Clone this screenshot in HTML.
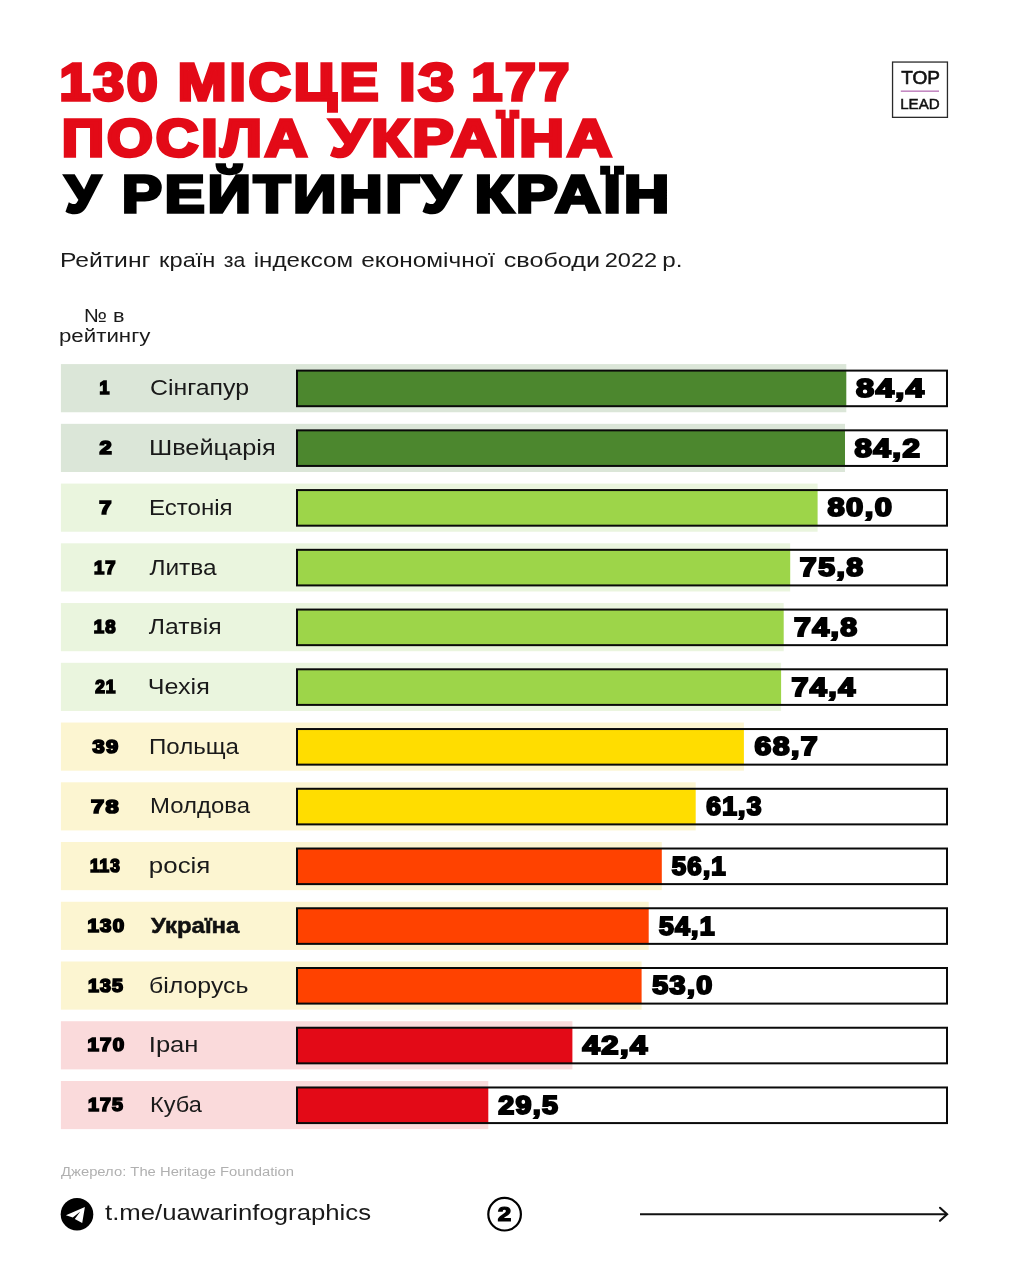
<!DOCTYPE html>
<html lang="uk">
<head>
<meta charset="utf-8">
<title>130 місце із 177 посіла Україна у рейтингу країн</title>
<style>
html,body{margin:0;padding:0;background:#fff;}
body{width:1009px;height:1280px;overflow:hidden;font-family:"Liberation Sans",sans-serif;}
svg{display:block;}
text{white-space:pre;font-family:"Liberation Sans",sans-serif;}
.k0{font-size:52.0px;fill:#e30a17;font-weight:bold;letter-spacing:2.6px;stroke:#e30a17;stroke-width:3.4px;stroke-linejoin:miter;stroke-miterlimit:3;}
.k1{font-size:52.0px;fill:#000;font-weight:bold;letter-spacing:2.6px;stroke:#000;stroke-width:3.4px;stroke-linejoin:miter;stroke-miterlimit:3;}
.k2{font-size:18.6px;fill:#111;stroke:#111;stroke-width:0.6px;stroke-linejoin:miter;stroke-miterlimit:3;}
.k3{font-size:15px;fill:#111;stroke:#111;stroke-width:0.5px;stroke-linejoin:miter;stroke-miterlimit:3;}
.k4{font-size:20.5px;fill:#1a1a1a;}
.k5{font-size:18.8px;fill:#1a1a1a;}
.k6{font-size:18px;fill:#1a1a1a;}
.k7{font-size:18.7px;fill:#000;font-weight:bold;letter-spacing:1.1px;stroke:#000;stroke-width:1.7px;stroke-linejoin:miter;stroke-miterlimit:3;}
.k8{font-size:21.2px;fill:#1a1a1a;}
.k9{font-size:25.6px;fill:#000;font-weight:bold;letter-spacing:1.2px;stroke:#000;stroke-width:2.0px;stroke-linejoin:miter;stroke-miterlimit:3;}
.k10{font-size:21.2px;fill:#111;font-weight:bold;stroke:#111;stroke-width:0.5px;stroke-linejoin:miter;stroke-miterlimit:3;}
.k11{font-size:12.5px;fill:#b0b0b0;}
.k12{font-size:21.6px;fill:#1a1a1a;}
.k13{font-size:20px;fill:#000;font-weight:bold;stroke:#000;stroke-width:1.2px;stroke-linejoin:miter;stroke-miterlimit:3;}
</style>
</head>
<body>
<svg width="1009" height="1280" viewBox="0 0 1009 1280">
<rect width="1009" height="1280" fill="#fff"/>
<text class="k0" x="59.5" y="100.1" textLength="100.98" lengthAdjust="spacingAndGlyphs">130</text>
<text class="k0" x="177.81" y="100.1" textLength="203.52" lengthAdjust="spacingAndGlyphs">МІСЦЕ</text>
<text class="k0" x="399.27" y="100.1" textLength="58.38" lengthAdjust="spacingAndGlyphs">ІЗ</text>
<text class="k0" x="471.52" y="100.1" textLength="100.57" lengthAdjust="spacingAndGlyphs">177</text>
<text class="k0" x="61.66" y="156.1" textLength="248.67" lengthAdjust="spacingAndGlyphs">ПОСІЛА</text>
<text class="k0" x="329.7" y="156.1" textLength="285.13" lengthAdjust="spacingAndGlyphs">УКРАЇНА</text>
<text class="k1" x="65.28" y="212.1" textLength="37.57" lengthAdjust="spacingAndGlyphs">У</text>
<text class="k1" x="121.99" y="212.1" textLength="340.52" lengthAdjust="spacingAndGlyphs">РЕЙТИНГУ</text>
<text class="k1" x="474.69" y="212.1" textLength="197.46" lengthAdjust="spacingAndGlyphs">КРАЇН</text>
<rect x="892.55" y="62.05" width="54.9" height="55.3" fill="#fff" stroke="#2a2a2a" stroke-width="1.3"/>
<text class="k2" x="901.2" y="84.2" textLength="38.82" lengthAdjust="spacingAndGlyphs">TOP</text>
<rect x="900.8" y="90.4" width="38.2" height="1.6" fill="#c48ac2"/>
<text class="k3" x="900.16" y="108.5" textLength="39.48" lengthAdjust="spacingAndGlyphs">LEAD</text>
<text class="k4" x="59.94" y="266.8" textLength="90.6" lengthAdjust="spacingAndGlyphs">Рейтинг</text>
<text class="k4" x="159.13" y="266.8" textLength="56.33" lengthAdjust="spacingAndGlyphs">країн</text>
<text class="k4" x="223.72" y="266.8" textLength="21.48" lengthAdjust="spacingAndGlyphs">за</text>
<text class="k4" x="253.75" y="266.8" textLength="99.3" lengthAdjust="spacingAndGlyphs">індексом</text>
<text class="k4" x="361.19" y="266.8" textLength="133.81" lengthAdjust="spacingAndGlyphs">економічної</text>
<text class="k4" x="503.74" y="266.8" textLength="96.35" lengthAdjust="spacingAndGlyphs">свободи</text>
<text class="k4" x="604.69" y="266.8" textLength="52.41" lengthAdjust="spacingAndGlyphs">2022</text>
<text class="k4" x="662.3" y="266.8" textLength="20.19" lengthAdjust="spacingAndGlyphs">р.</text>
<text class="k5" x="83.7" y="322.1" textLength="40.72" lengthAdjust="spacingAndGlyphs">№ в</text>
<text class="k6" x="58.96" y="341.5" textLength="91.46" lengthAdjust="spacingAndGlyphs">рейтингу</text>
<rect x="60.9" y="364.1" width="785.4" height="48.15" fill="#dbe6d8"/>
<rect x="297.0" y="370.6" width="650.0" height="35.6" fill="#fff"/>
<rect x="297.0" y="370.6" width="549.3" height="35.6" fill="#4c872e"/>
<rect x="297.0" y="370.6" width="650.0" height="35.6" fill="none" stroke="#0a0a0a" stroke-width="2"/>
<text class="k7" x="99.58" y="394.35" textLength="10.89" lengthAdjust="spacingAndGlyphs">1</text>
<text class="k8" x="149.98" y="395.3" textLength="99.02" lengthAdjust="spacingAndGlyphs">Сінгапур</text>
<text class="k9" x="856.0" y="397.0" textLength="69.53" lengthAdjust="spacingAndGlyphs">84,4</text>
<rect x="60.9" y="423.84" width="784.1" height="48.15" fill="#dbe6d8"/>
<rect x="297.0" y="430.34" width="650.0" height="35.6" fill="#fff"/>
<rect x="297.0" y="430.34" width="548.0" height="35.6" fill="#4c872e"/>
<rect x="297.0" y="430.34" width="650.0" height="35.6" fill="none" stroke="#0a0a0a" stroke-width="2"/>
<text class="k7" x="99.49" y="454.09" textLength="13.5" lengthAdjust="spacingAndGlyphs">2</text>
<text class="k8" x="148.94" y="455.04" textLength="126.72" lengthAdjust="spacingAndGlyphs">Швейцарія</text>
<text class="k9" x="854.48" y="456.74" textLength="66.88" lengthAdjust="spacingAndGlyphs">84,2</text>
<rect x="60.9" y="483.58" width="756.7" height="48.15" fill="#eaf5de"/>
<rect x="297.0" y="490.08" width="650.0" height="35.6" fill="#fff"/>
<rect x="297.0" y="490.08" width="520.6" height="35.6" fill="#9dd549"/>
<rect x="297.0" y="490.08" width="650.0" height="35.6" fill="none" stroke="#0a0a0a" stroke-width="2"/>
<text class="k7" x="99.2" y="513.83" textLength="13.54" lengthAdjust="spacingAndGlyphs">7</text>
<text class="k8" x="148.91" y="514.78" textLength="83.74" lengthAdjust="spacingAndGlyphs">Естонія</text>
<text class="k9" x="827.49" y="516.48" textLength="65.94" lengthAdjust="spacingAndGlyphs">80,0</text>
<rect x="60.9" y="543.32" width="729.3" height="48.15" fill="#eaf5de"/>
<rect x="297.0" y="549.82" width="650.0" height="35.6" fill="#fff"/>
<rect x="297.0" y="549.82" width="493.2" height="35.6" fill="#9dd549"/>
<rect x="297.0" y="549.82" width="650.0" height="35.6" fill="none" stroke="#0a0a0a" stroke-width="2"/>
<text class="k7" x="94.01" y="573.57" textLength="22.65" lengthAdjust="spacingAndGlyphs">17</text>
<text class="k8" x="149.4" y="574.52" textLength="67.2" lengthAdjust="spacingAndGlyphs">Литва</text>
<text class="k9" x="799.88" y="576.22" textLength="64.67" lengthAdjust="spacingAndGlyphs">75,8</text>
<rect x="60.9" y="603.06" width="722.8" height="48.15" fill="#eaf5de"/>
<rect x="297.0" y="609.56" width="650.0" height="35.6" fill="#fff"/>
<rect x="297.0" y="609.56" width="486.7" height="35.6" fill="#9dd549"/>
<rect x="297.0" y="609.56" width="650.0" height="35.6" fill="none" stroke="#0a0a0a" stroke-width="2"/>
<text class="k7" x="93.75" y="633.31" textLength="22.85" lengthAdjust="spacingAndGlyphs">18</text>
<text class="k8" x="148.78" y="634.26" textLength="72.85" lengthAdjust="spacingAndGlyphs">Латвія</text>
<text class="k9" x="794.0" y="635.96" textLength="64.63" lengthAdjust="spacingAndGlyphs">74,8</text>
<rect x="60.9" y="662.8" width="720.2" height="48.15" fill="#eaf5de"/>
<rect x="297.0" y="669.3" width="650.0" height="35.6" fill="#fff"/>
<rect x="297.0" y="669.3" width="484.1" height="35.6" fill="#9dd549"/>
<rect x="297.0" y="669.3" width="650.0" height="35.6" fill="none" stroke="#0a0a0a" stroke-width="2"/>
<text class="k7" x="95.14" y="693.05" textLength="21.31" lengthAdjust="spacingAndGlyphs">21</text>
<text class="k8" x="147.86" y="694.0" textLength="61.87" lengthAdjust="spacingAndGlyphs">Чехія</text>
<text class="k9" x="791.48" y="695.7" textLength="65.07" lengthAdjust="spacingAndGlyphs">74,4</text>
<rect x="60.9" y="722.54" width="683.0" height="48.15" fill="#fcf5d1"/>
<rect x="297.0" y="729.04" width="650.0" height="35.6" fill="#fff"/>
<rect x="297.0" y="729.04" width="446.9" height="35.6" fill="#ffdd00"/>
<rect x="297.0" y="729.04" width="650.0" height="35.6" fill="none" stroke="#0a0a0a" stroke-width="2"/>
<text class="k7" x="92.43" y="752.79" textLength="27.02" lengthAdjust="spacingAndGlyphs">39</text>
<text class="k8" x="148.94" y="753.74" textLength="90.07" lengthAdjust="spacingAndGlyphs">Польща</text>
<text class="k9" x="754.57" y="755.44" textLength="64.53" lengthAdjust="spacingAndGlyphs">68,7</text>
<rect x="60.9" y="782.28" width="634.8" height="48.15" fill="#fcf5d1"/>
<rect x="297.0" y="788.78" width="650.0" height="35.6" fill="#fff"/>
<rect x="297.0" y="788.78" width="398.7" height="35.6" fill="#ffdd00"/>
<rect x="297.0" y="788.78" width="650.0" height="35.6" fill="none" stroke="#0a0a0a" stroke-width="2"/>
<text class="k7" x="91.0" y="812.53" textLength="29.08" lengthAdjust="spacingAndGlyphs">78</text>
<text class="k8" x="149.98" y="813.48" textLength="100.02" lengthAdjust="spacingAndGlyphs">Молдова</text>
<text class="k9" x="706.2" y="815.18" textLength="56.45" lengthAdjust="spacingAndGlyphs">61,3</text>
<rect x="60.9" y="842.02" width="600.9" height="48.15" fill="#fcf5d1"/>
<rect x="297.0" y="848.52" width="650.0" height="35.6" fill="#fff"/>
<rect x="297.0" y="848.52" width="364.8" height="35.6" fill="#ff4200"/>
<rect x="297.0" y="848.52" width="650.0" height="35.6" fill="none" stroke="#0a0a0a" stroke-width="2"/>
<text class="k7" x="89.94" y="872.27" textLength="30.88" lengthAdjust="spacingAndGlyphs">113</text>
<text class="k8" x="148.85" y="873.22" textLength="61.52" lengthAdjust="spacingAndGlyphs">росія</text>
<text class="k9" x="671.7" y="874.92" textLength="55.23" lengthAdjust="spacingAndGlyphs">56,1</text>
<rect x="60.9" y="901.76" width="587.8" height="48.15" fill="#fcf5d1"/>
<rect x="297.0" y="908.26" width="650.0" height="35.6" fill="#fff"/>
<rect x="297.0" y="908.26" width="351.7" height="35.6" fill="#ff4200"/>
<rect x="297.0" y="908.26" width="650.0" height="35.6" fill="none" stroke="#0a0a0a" stroke-width="2"/>
<text class="k7" x="87.48" y="932.01" textLength="37.8" lengthAdjust="spacingAndGlyphs">130</text>
<text class="k10" x="151.0" y="932.96" textLength="88.4" lengthAdjust="spacingAndGlyphs">Україна</text>
<text class="k9" x="658.98" y="934.66" textLength="56.87" lengthAdjust="spacingAndGlyphs">54,1</text>
<rect x="60.9" y="961.5" width="580.7" height="48.15" fill="#fcf5d1"/>
<rect x="297.0" y="968.0" width="650.0" height="35.6" fill="#fff"/>
<rect x="297.0" y="968.0" width="344.6" height="35.6" fill="#ff4200"/>
<rect x="297.0" y="968.0" width="650.0" height="35.6" fill="none" stroke="#0a0a0a" stroke-width="2"/>
<text class="k7" x="87.96" y="991.75" textLength="36.14" lengthAdjust="spacingAndGlyphs">135</text>
<text class="k8" x="148.94" y="992.7" textLength="99.51" lengthAdjust="spacingAndGlyphs">білорусь</text>
<text class="k9" x="652.2" y="994.4" textLength="61.42" lengthAdjust="spacingAndGlyphs">53,0</text>
<rect x="60.9" y="1021.24" width="511.5" height="48.15" fill="#fadadb"/>
<rect x="297.0" y="1027.74" width="650.0" height="35.6" fill="#fff"/>
<rect x="297.0" y="1027.74" width="275.4" height="35.6" fill="#e30a17"/>
<rect x="297.0" y="1027.74" width="650.0" height="35.6" fill="none" stroke="#0a0a0a" stroke-width="2"/>
<text class="k7" x="87.48" y="1051.49" textLength="37.8" lengthAdjust="spacingAndGlyphs">170</text>
<text class="k8" x="148.78" y="1052.44" textLength="49.73" lengthAdjust="spacingAndGlyphs">Іран</text>
<text class="k9" x="582.49" y="1054.14" textLength="66.27" lengthAdjust="spacingAndGlyphs">42,4</text>
<rect x="60.9" y="1080.98" width="427.4" height="48.15" fill="#fadadb"/>
<rect x="297.0" y="1087.48" width="650.0" height="35.6" fill="#fff"/>
<rect x="297.0" y="1087.48" width="191.3" height="35.6" fill="#e30a17"/>
<rect x="297.0" y="1087.48" width="650.0" height="35.6" fill="none" stroke="#0a0a0a" stroke-width="2"/>
<text class="k7" x="87.96" y="1111.23" textLength="36.14" lengthAdjust="spacingAndGlyphs">175</text>
<text class="k8" x="149.96" y="1112.18" textLength="51.84" lengthAdjust="spacingAndGlyphs">Куба</text>
<text class="k9" x="498.2" y="1113.88" textLength="61.22" lengthAdjust="spacingAndGlyphs">29,5</text>
<text class="k11" x="61.0" y="1176" textLength="233.0" lengthAdjust="spacingAndGlyphs">Джерело: The Heritage Foundation</text>
<circle cx="77" cy="1214.2" r="16.3" fill="#000"/>
<path d="M65.9 1215.2 L84.9 1207 L82.2 1223.1 L74.8 1219 L80.3 1211.6 L72.8 1217.5 Z" fill="#fff"/>
<text class="k12" x="105.0" y="1220.0" textLength="266.01" lengthAdjust="spacingAndGlyphs">t.me/uawarinfographics</text>
<circle cx="504.6" cy="1214.2" r="16.3" fill="#fff" stroke="#000" stroke-width="2.2"/>
<text class="k13" x="497.66" y="1221.4" textLength="13.46" lengthAdjust="spacingAndGlyphs">2</text>
<path d="M640 1214.3 H947" stroke="#111" stroke-width="1.9" fill="none"/>
<path d="M940 1207.8 L947.1 1214.3 L940 1220.8" stroke="#111" stroke-width="2.1" fill="none" stroke-linecap="round" stroke-linejoin="miter"/>
</svg>
</body>
</html>
